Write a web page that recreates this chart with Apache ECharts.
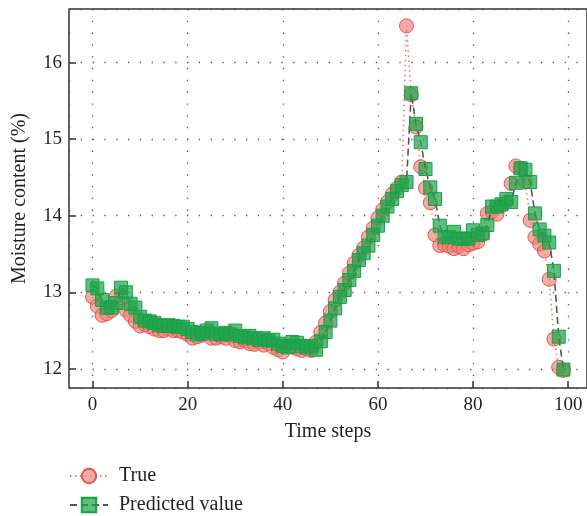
<!DOCTYPE html>
<html>
<head>
<meta charset="utf-8">
<script src="https://cdn.jsdelivr.net/npm/echarts@6/dist/echarts.min.js"></script>
<style>
html,body{margin:0;padding:0;background:#fff;}
#chart{width:587px;height:516px;}
</style>
</head>
<body>
<div id="chart"></div>
<script>
// Time steps 0..99
var timeSteps = [];
for (var t = 0; t < 100; t++) timeSteps.push(t);

var trueValues = [
  12.94, 12.82, 12.70, 12.72, 12.76, 12.95, 12.92, 12.77, 12.70, 12.62,
  12.56, 12.58, 12.55, 12.52, 12.50, 12.50, 12.52, 12.50, 12.50, 12.48,
  12.45, 12.40, 12.42, 12.44, 12.46, 12.40, 12.40, 12.42, 12.40, 12.44,
  12.37, 12.35, 12.37, 12.33, 12.32, 12.35, 12.31, 12.33, 12.28, 12.25,
  12.22, 12.30, 12.29, 12.26, 12.24, 12.26, 12.24, 12.35, 12.48, 12.60,
  12.75, 12.90, 13.00, 13.12, 13.25, 13.38, 13.48, 13.58, 13.72, 13.84,
  13.97, 14.08, 14.18, 14.28, 14.36, 14.44, 16.48, 15.58, 15.16, 14.64,
  14.36, 14.17, 13.75, 13.61, 13.62, 13.60, 13.57, 13.60, 13.57, 13.62,
  13.64, 13.66, 13.75, 14.03, 14.05, 14.02, 14.13, 14.18, 14.42, 14.65,
  14.62, 14.44, 13.94, 13.72, 13.63, 13.54, 13.17, 12.39, 12.02, 11.98
];

var predictedValues = [
  13.09, 13.05, 12.90, 12.80, 12.80, 12.86, 13.06, 13.00, 12.85, 12.80,
  12.68, 12.63, 12.62, 12.60, 12.57, 12.56, 12.57, 12.56, 12.55, 12.55,
  12.52, 12.48, 12.45, 12.47, 12.50, 12.53, 12.46, 12.45, 12.47, 12.45,
  12.50, 12.43, 12.41, 12.43, 12.40, 12.38, 12.40, 12.37, 12.38, 12.33,
  12.30, 12.28, 12.35, 12.34, 12.30, 12.28, 12.30, 12.25, 12.36, 12.48,
  12.63, 12.79, 12.94, 13.03, 13.16, 13.28, 13.42, 13.51, 13.61, 13.75,
  13.87, 14.00, 14.12, 14.22, 14.32, 14.40, 14.44, 15.60, 15.20, 14.96,
  14.61, 14.37, 14.22, 13.87, 13.72, 13.72, 13.79, 13.70, 13.70, 13.70,
  13.81, 13.75, 13.77, 13.88, 14.12, 14.12, 14.15, 14.22, 14.18, 14.43,
  14.62, 14.60, 14.44, 14.03, 13.82, 13.74, 13.65, 13.28, 12.42, 11.99
];

var seriesNames = ['True', 'Predicted value'];

function pairs(vals) {
  return timeSteps.map(function (t, i) { return [t, vals[i]]; });
}

var FONT = '"Liberation Serif", "DejaVu Serif", serif';
var TXT = '#231f20';
var gridDots = { color: '#555', width: 1.3, type: [1.3, 10.5] };
var tickStyle = { show: true, inside: true, length: 7, lineStyle: { color: '#333', width: 1.5 } };

var chart = echarts.init(document.getElementById('chart'), null, { renderer: 'canvas' });
chart.setOption({
  animation: false,
  backgroundColor: '#fff',
  textStyle: { fontFamily: FONT },
  grid: {
    left: 69, top: 9, right: -1, bottom: 128,
    show: true, borderColor: '#333', borderWidth: 1.5, backgroundColor: 'transparent'
  },
  legend: {
    orient: 'vertical',
    left: 69, top: 465,
    padding: 0,
    itemWidth: 38, itemHeight: 18, itemGap: 7,
    textStyle: { fontFamily: FONT, fontSize: 20, color: TXT, lineHeight: 22, padding: [0, 0, 0, 6] },
    data: seriesNames
  },
  xAxis: {
    type: 'value',
    min: -4.95, max: 103.95,
    splitNumber: 5,
    name: 'Time steps',
    nameLocation: 'middle',
    nameGap: 34,
    nameTextStyle: { fontFamily: FONT, fontSize: 20, color: TXT },
    axisLine: { show: false, onZero: false },
    axisTick: tickStyle,
    axisLabel: { fontFamily: FONT, fontSize: 19, color: TXT, margin: 8, showMinLabel: false, showMaxLabel: false },
    splitLine: { show: true, lineStyle: gridDots }
  },
  yAxis: {
    type: 'value',
    min: 11.75, max: 16.7,
    splitNumber: 5,
    name: 'Moisture content (%)',
    nameLocation: 'middle',
    nameGap: 39,
    nameTextStyle: { fontFamily: FONT, fontSize: 20, color: TXT },
    axisLine: { show: false, onZero: false },
    axisTick: tickStyle,
    axisLabel: { fontFamily: FONT, fontSize: 19, color: TXT, margin: 7, showMinLabel: false, showMaxLabel: false },
    splitLine: { show: true, lineStyle: gridDots }
  },
  series: [
    {
      name: seriesNames[0],
      type: 'line',
      data: pairs(trueValues),
      symbol: 'circle',
      symbolSize: 14,
      showAllSymbol: true,
      lineStyle: { color: '#f07a6e', width: 1.6, type: [1.5, 3.5] },
      itemStyle: { color: 'rgba(241,128,118,0.65)', borderColor: '#e5564c', borderWidth: 1 },
      z: 2
    },
    {
      name: seriesNames[1],
      type: 'line',
      data: pairs(predictedValues),
      symbol: 'rect',
      symbolSize: 13,
      showAllSymbol: true,
      lineStyle: { color: '#555', width: 1.6, type: [7, 4] },
      itemStyle: { color: 'rgba(30,165,75,0.72)', borderColor: '#17a04a', borderWidth: 1 },
      z: 3
    }
  ]
});
</script>
</body>
</html>
